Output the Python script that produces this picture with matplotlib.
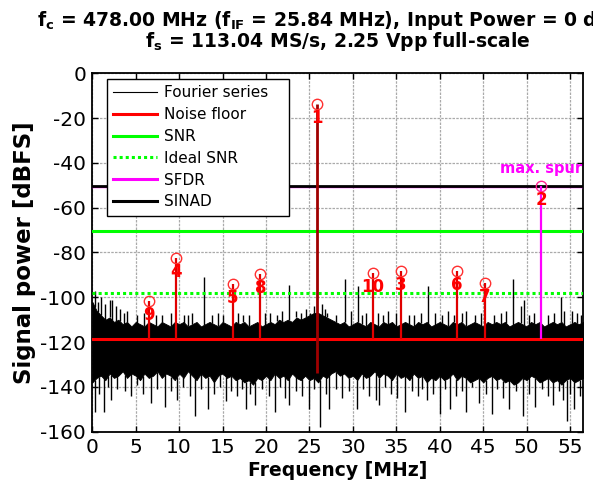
import matplotlib
matplotlib.use("Agg")
import matplotlib.pyplot as plt
import numpy as np
from matplotlib.lines import Line2D

plt.rcParams['font.family'] = ['DejaVu Sans']
plt.rcParams['mathtext.fontset'] = 'dejavusans'
plt.rcParams['axes.unicode_minus'] = False

# ---------------- data ----------------
fs_half = 56.52
harm_num = [1, 2, 3, 4, 5, 6, 7, 8, 9, 10]
harm_freq = [25.84, 51.68, 35.52, 9.68, 16.16, 42.00, 45.20, 19.36, 6.48, 32.32]
harm_level = [-13.8, -50.5, -88.3, -82.6, -94.2, -88.3, -93.8, -89.6, -101.5, -89.0]

noise_floor = -118.6
snr_level = -70.4
ideal_snr_level = -97.9
sfdr_level = -50.8
sinad_level = -50.2

# dense noise band, sampled every 0.5 MHz from 0 to 56.5 MHz
noise_f = np.arange(0, 57, 0.5)
noise_top = [-102, -106, -108, -110, -109, -111, -110, -112, -111, -113,
             -111, -112, -113, -111, -112, -113, -111, -112, -113, -111,
             -112, -111, -113, -112, -111, -113, -112, -111, -112, -113,
             -111, -112, -113, -111, -112, -111, -113, -112, -111, -113,
             -112, -111, -112, -110, -111, -110, -111, -109, -110, -109,
             -108, -107, -107, -108, -109, -110, -111, -112, -111, -113,
             -112, -111, -112, -113, -111, -112, -113, -111, -112, -111,
             -113, -112, -111, -112, -113, -111, -112, -111, -113, -112,
             -111, -112, -113, -111, -112, -111, -113, -112, -111, -112,
             -113, -111, -112, -111, -112, -111, -113, -112, -111, -112,
             -113, -111, -112, -111, -113, -112, -111, -112, -111, -113,
             -112, -111, -112, -111]
noise_bot = [-138, -136, -135, -137, -134, -136, -135, -133, -136, -134,
             -135, -137, -134, -136, -135, -133, -136, -134, -135, -137,
             -134, -136, -133, -135, -137, -134, -136, -135, -138, -135,
             -134, -136, -135, -137, -136, -138, -137, -139, -136, -137,
             -135, -137, -134, -136, -135, -137, -134, -136, -137, -135,
             -137, -136, -138, -135, -136, -134, -133, -135, -134, -136,
             -135, -137, -134, -136, -135, -133, -136, -134, -135, -137,
             -134, -136, -135, -137, -134, -136, -135, -138, -136, -137,
             -135, -137, -136, -134, -137, -135, -136, -138, -137, -136,
             -138, -136, -135, -137, -136, -138, -137, -139, -138, -136,
             -137, -135, -136, -138, -137, -136, -138, -137, -139, -137,
             -136, -138, -137, -136]

# isolated noise spikes (frequency MHz, level dBFS)
spike_up_f = [0.3, 0.6, 1.0, 1.5, 2.0, 2.3, 2.7, 3.2, 3.6, 4.0, 5.2, 5.9, 7.3, 8.0,
              9.1, 10.6, 11.0, 11.5, 12.9, 13.8, 14.5, 15.0, 16.8, 17.4, 18.0, 19.9,
              20.5, 21.3, 21.8, 22.6, 23.5, 24.0, 24.6, 25.1, 25.5, 26.4, 26.8, 27.0,
              28.0, 29.05, 29.8, 30.6, 31.0, 31.5, 32.9, 33.5, 34.0, 35.0, 36.4, 37.0,
              37.8, 38.7, 39.4, 40.3, 40.9, 41.6, 42.5, 43.0, 44.0, 44.8, 46.2, 47.0,
              47.6, 48.4, 49.3, 49.7, 50.3, 50.9, 52.4, 53.2, 53.9, 54.3, 55.2, 55.8, 56.3]
spike_up_v = [-97, -102, -100, -103, -101, -101, -104, -105, -107, -106, -108, -107, -108, -108,
              -107, -108, -108, -107, -91, -108, -107, -108, -107, -108, -108, -107,
              -107, -108, -106, -94.5, -106, -107, -105, -107, -104, -103, -105, -107,
              -108, -92, -106, -95, -108, -107, -107, -108, -106, -107, -108, -108,
              -107, -94.8, -107, -108, -106, -108, -107, -106, -108, -107, -108, -107,
              -106, -92, -104, -101, -108, -107, -108, -107, -100, -106, -106, -107, -108]
spike_dn_f = [0.3, 0.8, 1.3, 1.8, 2.2, 2.9, 3.8, 4.5, 5.1, 5.8, 6.8, 7.4, 8.4, 9.1,
              9.7, 10.4, 11.2, 11.8, 12.5, 13.3, 14.0, 14.7, 15.4, 16.0, 16.7, 17.2,
              17.7, 18.2, 18.7, 19.5, 20.3, 21.0, 21.6, 22.2, 22.7, 23.4, 24.1, 25.0,
              25.5, 26.2, 26.9, 27.3, 28.1, 28.8, 29.5, 30.5, 31.2, 31.9, 32.6, 33.0,
              33.7, 34.4, 35.1, 36.0, 36.8, 37.5, 38.0, 38.5, 39.2, 40.0, 40.6, 41.2,
              41.9, 42.6, 43.0, 43.7, 44.5, 45.3, 46.0, 46.6, 47.3, 48.0, 48.8, 49.6,
              50.3, 51.0, 51.8, 52.5, 53.0, 53.7, 54.2, 54.6, 55.0, 55.5, 56.1]
spike_dn_v = [-151, -143, -151, -140, -146, -141, -142, -144, -139, -143, -147, -141, -149, -142,
              -146, -140, -144, -153, -141, -150, -143, -140, -146.5, -142, -144, -141,
              -150, -143, -148, -141, -144, -151, -140, -145, -148, -142, -144, -150,
              -141, -158, -143, -150, -141, -145, -142, -150, -141, -144, -146, -148,
              -140, -143, -145, -151, -142, -144, -141, -146, -143, -152, -141, -150,
              -144, -142, -151, -140, -147, -143, -152, -141, -145, -150, -142, -153,
              -143, -149, -141, -144, -148, -142, -146, -155, -143, -150, -144]

# ---------------- figure ----------------
fig = plt.figure(figsize=(5.93, 4.90), dpi=100)
ax = fig.add_axes([92.3 / 593, (490 - 431.7) / 490, (583.3 - 92.3) / 593, (431.7 - 73.3) / 490])

ax.set_xlim(0, fs_half)
ax.set_ylim(-160, 0)
ax.set_xticks(np.arange(0, 56, 5))
ax.set_yticks(np.arange(-160, 1, 20))
ax.grid(True, color='#aaaaaa', lw=0.9, ls=(0, (2, 1)), zorder=0)
ax.set_axisbelow(True)

# noise (Fourier series)
ax.fill_between(noise_f, noise_bot, noise_top, color='black', lw=0.6, edgecolor='black', zorder=2)
top_at = np.interp(spike_up_f, noise_f, noise_top)
bot_at = np.interp(spike_dn_f, noise_f, noise_bot)
ax.vlines(spike_up_f, top_at, spike_up_v, color='black', lw=1.0, zorder=2)
ax.vlines(spike_dn_f, bot_at, spike_dn_v, color='black', lw=1.0, zorder=2)

# horizontal lines
ax.axhline(noise_floor, color='#ff0000', lw=2.2, zorder=4)
ax.axhline(snr_level, color='#00ff00', lw=2.2, zorder=4)
ax.axhline(ideal_snr_level, color='#00ff00', lw=2.2, ls=(0, (1, 1)), zorder=4)
ax.axhline(sfdr_level, color='#ff00ff', lw=1.0, zorder=4)
ax.axhline(sinad_level, color='black', lw=2.0, zorder=4)

# stems and markers
for n, f, v in zip(harm_num, harm_freq, harm_level):
    if n == 1:
        ax.vlines(f, -134, v, color='#a00000', lw=2.0, zorder=5)
        mc = '#ff3030'
    elif n == 2:
        ax.vlines(f, noise_floor, v, color='#ff00ff', lw=1.6, zorder=5)
        mc = '#ff2090'
    else:
        ax.vlines(f, noise_floor, v, color='#e00000', lw=1.6, zorder=5)
        mc = '#ff3030'
    ax.plot([f], [v], 'o', ms=7.5, mfc='none', mec=mc, mew=1.0, zorder=6)
    ax.annotate(str(n), (f, v), xytext=(0, -3.5), textcoords='offset points',
                ha='center', va='top', color='#ff0000', fontsize=12,
                fontweight='bold', zorder=7)

ax.annotate('max. spur', (harm_freq[1], harm_level[1]), xytext=(0, 9.5),
            textcoords='offset points', ha='center', va='baseline',
            color='#ff00ff', fontsize=10.5, fontweight='bold', zorder=7)

# axes styling
for s in ax.spines.values():
    s.set_linewidth(1.3)
    s.set_color('black')
ax.tick_params(direction='in', length=4, width=1.0, top=True, right=True,
               labelsize=14.5)
ax.tick_params(axis='x', pad=4.5)
ax.tick_params(axis='y', pad=4.5)
ax.set_xlabel('Frequency [MHz]', fontsize=13.5, fontweight='bold', labelpad=3)
ax.set_ylabel('Signal power [dBFS]', fontsize=16.5, fontweight='bold', labelpad=3)

# title
cx = (92.3 + 583.3) / 2 / 593
fig.text(cx, 1 - 26 / 490,
         r'$\mathbf{f_{c}}$ = 478.00 MHz ($\mathbf{f_{IF}}$ = 25.84 MHz), Input Power = 0 dBFS',
         ha='center', va='baseline', fontsize=13.5, fontweight='bold')
fig.text(cx, 1 - 47 / 490,
         r'$\mathbf{f_{s}}$ = 113.04 MS/s, 2.25 Vpp full-scale',
         ha='center', va='baseline', fontsize=13.5, fontweight='bold')

# legend
handles = [
    Line2D([], [], color='black', lw=0.8),
    Line2D([], [], color='#ff0000', lw=2.2),
    Line2D([], [], color='#00ff00', lw=2.2),
    Line2D([], [], color='#00ff00', lw=2.2, ls=(0, (1, 1))),
    Line2D([], [], color='#ff00ff', lw=2.2),
    Line2D([], [], color='black', lw=2.2),
]
labels = ['Fourier series', 'Noise floor', 'SNR', 'Ideal SNR', 'SFDR', 'SINAD']
x0 = (107 - 92.3) / 491
w = (289 - 107) / 491
y1 = 1 - (79 - 73.3) / 358.4
leg = ax.legend(handles, labels, loc='upper left', bbox_to_anchor=(x0, y1 - 0.5, w, 0.5),
                mode='expand', fontsize=11, frameon=True, fancybox=False, shadow=False,
                borderaxespad=0, borderpad=0.4, labelspacing=0.45, handlelength=2.9,
                handletextpad=0.4, framealpha=1)
leg.get_frame().set_edgecolor('black')
leg.get_frame().set_linewidth(1.0)
leg.set_zorder(10)

fig.savefig('out.png', dpi=100)
